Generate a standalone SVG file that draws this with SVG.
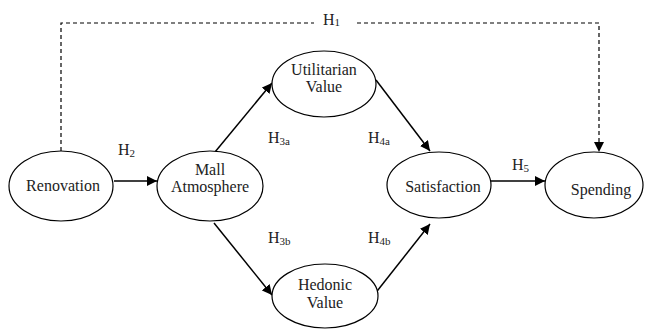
<svg xmlns="http://www.w3.org/2000/svg" width="648" height="331" viewBox="0 0 648 331">
<style>
.n{fill:#fff;stroke:#000;stroke-width:1.2}
.t{font-family:"Liberation Serif","Times New Roman",serif;font-size:16px;fill:#222;text-anchor:middle}
.l{font-family:"Liberation Serif","Times New Roman",serif;font-size:16px;fill:#222}
.s{font-size:11px}
.c{fill:none;stroke:#000;stroke-width:1.5}
.d{fill:none;stroke:#000;stroke-width:1.2;stroke-dasharray:4,3}
</style>
<defs>
<marker id="a" viewBox="0 0 10 10" refX="10" refY="5" markerWidth="10" markerHeight="10" markerUnits="userSpaceOnUse" orient="auto">
<path d="M0,0 L10,5 L0,10 z" fill="#000"/>
</marker>
</defs>
<rect width="648" height="331" fill="#fff"/>
<g id="connectors">
<path class="d" d="M61,151 V23 H314"/>
<path class="d" d="M357,23 H599 V152" marker-end="url(#a)"/>
<line class="c" x1="114" y1="181" x2="157" y2="181" marker-end="url(#a)"/>
<line class="c" x1="215" y1="152" x2="272" y2="83" marker-end="url(#a)"/>
<line class="c" x1="214" y1="223" x2="272" y2="295" marker-end="url(#a)"/>
<line class="c" x1="376" y1="80" x2="430" y2="151" marker-end="url(#a)"/>
<line class="c" x1="374" y1="295" x2="430" y2="224" marker-end="url(#a)"/>
<line class="c" x1="488" y1="181" x2="545" y2="181" marker-end="url(#a)"/>
</g>
<g id="labels">
<text class="l" x="323" y="25">H<tspan class="s" dy="1">1</tspan></text>
<text class="l" x="118" y="155">H<tspan class="s" dy="2">2</tspan></text>
<text class="l" x="268" y="143">H<tspan class="s" dy="2">3a</tspan></text>
<text class="l" x="368" y="143">H<tspan class="s" dy="2">4a</tspan></text>
<text class="l" x="268" y="243">H<tspan class="s" dy="2">3b</tspan></text>
<text class="l" x="368" y="243">H<tspan class="s" dy="2">4b</tspan></text>
<text class="l" x="512" y="170">H<tspan class="s" dy="2">5</tspan></text>
</g>
<g id="renovation">
<ellipse class="n" cx="61" cy="186" rx="52" ry="35"/>
<text class="t" x="63" y="191">Renovation</text>
</g>
<g id="mall">
<ellipse class="n" cx="210" cy="186" rx="53" ry="35"/>
<text class="t" x="210" y="175">Mall</text>
<text class="t" x="210" y="192">Atmosphere</text>
</g>
<g id="utilitarian">
<ellipse class="n" cx="324" cy="84" rx="52" ry="33"/>
<text class="t" x="324" y="75">Utilitarian</text>
<text class="t" x="324" y="92">Value</text>
</g>
<g id="hedonic">
<ellipse class="n" cx="325" cy="296" rx="53" ry="32"/>
<text class="t" x="325" y="290">Hedonic</text>
<text class="t" x="325" y="308">Value</text>
</g>
<g id="satisfaction">
<ellipse class="n" cx="439" cy="185" rx="52" ry="33"/>
<text class="t" x="443" y="192">Satisfaction</text>
</g>
<g id="spending">
<ellipse class="n" cx="594" cy="185" rx="49" ry="33"/>
<text class="t" x="601" y="195">Spending</text>
</g>
</svg>
